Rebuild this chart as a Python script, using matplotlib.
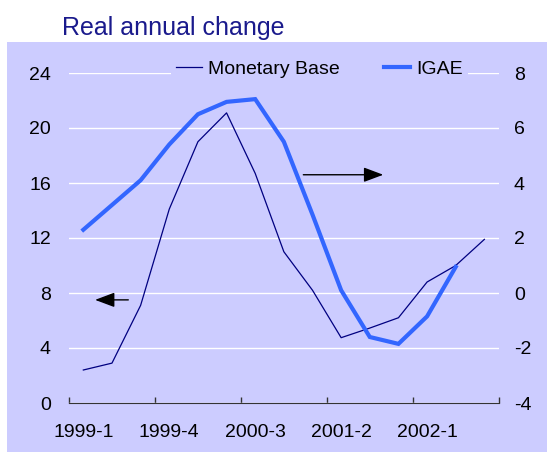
import matplotlib
matplotlib.use("Agg")
import matplotlib.pyplot as plt
import matplotlib.patches as patches
from matplotlib.ticker import FixedLocator

plt.rcParams['font.family'] = ['Liberation Sans', 'DejaVu Sans']
plt.rcParams['axes.unicode_minus'] = False

# quarterly data, 1999-1 .. 2002-3
quarters = ['1999-1', '1999-2', '1999-3', '1999-4', '2000-1', '2000-2', '2000-3',
            '2000-4', '2001-1', '2001-2', '2001-3', '2001-4', '2002-1', '2002-2', '2002-3']
monetary_base = [2.4, 2.9, 7.1, 14.1, 19.0, 21.1, 16.7, 11.0, 8.2, 4.75, 5.45, 6.2, 8.8, 10.0, 11.9]
igae = [2.3, 3.2, 4.1, 5.4, 6.5, 6.95, 7.05, 5.5, 2.85, 0.1, -1.6, -1.85, -0.85, 0.95]

left_ticks = [0, 4, 8, 12, 16, 20, 24]
right_ticks = [-4, -2, 0, 2, 4, 6, 8]
label_every = 3

bg = '#CCCCFF'
navy = '#000080'
blue = '#3366FF'

fig = plt.figure(figsize=(5.47, 4.57), dpi=100)
fig.patches.append(patches.Rectangle((7 / 547, 0.011), 1, 0.897, transform=fig.transFigure,
                                     facecolor=bg, edgecolor='none', zorder=-10))
fig.text(62 / 547, 1 - 28 / 457, 'Real annual change', fontsize=18, color='#1a1a8c',
         ha='left', va='center')

ax = fig.add_axes([69 / 547, 1 - 403 / 457, 429.7 / 547, 330 / 457])
ax.patch.set_visible(False)
ax2 = ax.twinx()
ax2.patch.set_visible(False)

x = list(range(len(quarters)))
ax.plot(x, monetary_base, color=navy, lw=0.9, label='Monetary Base')
ax2.plot(x[:len(igae)], igae, color=blue, lw=3, label='IGAE', solid_joinstyle='miter')

ax.set_xlim(-0.5, len(quarters) - 0.5)
ax.set_ylim(0, 24)
ax2.set_ylim(-4, 8)
ax.set_yticks(left_ticks)
ax2.set_yticks(right_ticks)
ax.grid(axis='y', color='white', lw=1)
ax.set_axisbelow(True)

ax.set_xticks(x[::label_every])
ax.set_xticklabels(quarters[::label_every])
ax.xaxis.set_minor_locator(FixedLocator([i - 0.5 for i in range(0, len(quarters) + 1, label_every)]))
ax.tick_params(axis='x', which='major', length=0, pad=15, labelsize=14)
ax.tick_params(axis='x', which='minor', length=4, direction='in', width=1, color='#333333')
ax.tick_params(axis='y', length=0, pad=13, labelsize=14)
ax2.tick_params(axis='y', length=0, pad=11, labelsize=14)

for a in (ax, ax2):
    for s in ('top', 'left', 'right', 'bottom'):
        a.spines[s].set_visible(False)
ax.spines['bottom'].set_visible(True)
ax.spines['bottom'].set_color('#333333')

# arrows showing which axis each series uses
ax.annotate('', xy=(0.41, 7.5), xytext=(1.57, 7.5),
            arrowprops=dict(arrowstyle='-|>,head_length=0.8,head_width=0.3', color='black',
                            lw=1, mutation_scale=15, shrinkA=0, shrinkB=0))
ax.annotate('', xy=(10.47, 16.6), xytext=(7.68, 16.6),
            arrowprops=dict(arrowstyle='-|>,head_length=0.8,head_width=0.3', color='black',
                            lw=1, mutation_scale=15, shrinkA=0, shrinkB=0))

h1, l1 = ax.get_legend_handles_labels()
h2, l2 = ax2.get_legend_handles_labels()
ax2.legend(h1 + h2, l1 + l2, loc='center', bbox_to_anchor=(0.583, 1.012), ncol=2,
           fontsize=14, frameon=True, facecolor=bg, edgecolor='none', framealpha=1,
           fancybox=False, handlelength=1.3, handletextpad=0.32, columnspacing=2.3,
           borderpad=0.3, borderaxespad=0)

fig.savefig('out.png', dpi=100)
